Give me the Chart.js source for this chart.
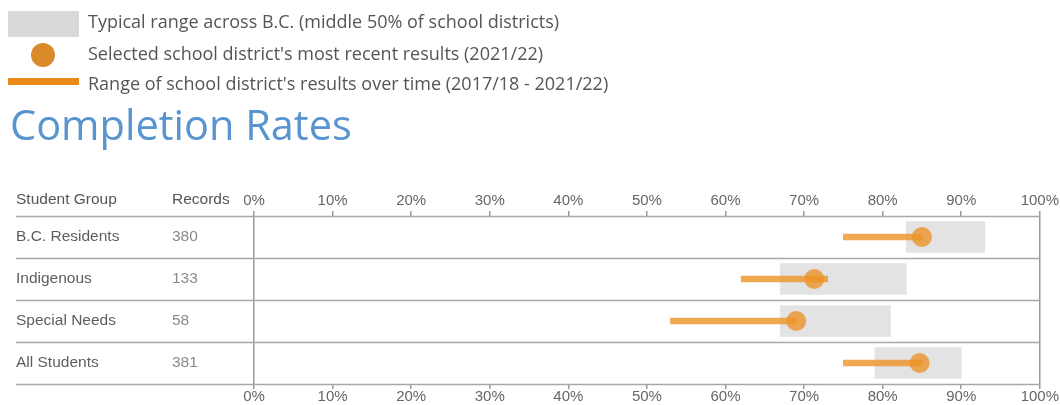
<!DOCTYPE html>
<html>
<head>
<meta charset="utf-8">
<script src="https://cdn.jsdelivr.net/npm/chart.js@4"></script>
<style>
  html, body { margin: 0; padding: 0; background: #fff; width: 1060px; height: 405px; overflow: hidden; }
  #wrap { position: relative; width: 1060px; height: 405px; }
  #c { position: absolute; left: 0; top: 0; }
  .lg { position: absolute; left: 88px; font-family: "Open Sans", sans-serif; font-size: 18px; line-height: 18px; color: #555; white-space: nowrap; }
  .sw-box { position: absolute; left: 8px; top: 11px; width: 71px; height: 26px; background: #d9d9d9; }
  .sw-dot { position: absolute; left: 31px; top: 43px; width: 24px; height: 24px; border-radius: 50%; background: #d98b2b; }
  .sw-line { position: absolute; left: 8px; top: 78px; width: 71px; height: 7px; background: #e8891a; }
  #title { position: absolute; left: 10px; top: 104px; font-family: "Open Sans", sans-serif; font-size: 41.5px; line-height: 41.5px; color: #5894d0; white-space: nowrap; }
</style>
</head>
<body>
<div id="wrap">
  <canvas id="c" width="1060" height="405"></canvas>
  <div class="sw-box"></div>
  <div class="lg" style="top:12px">Typical range across B.C. (middle 50% of school districts)</div>
  <div class="sw-dot"></div>
  <div class="lg" style="top:44px">Selected school district's most recent results (2021/22)</div>
  <div class="sw-line"></div>
  <div class="lg" style="top:74px">Range of school district's results over time (2017/18 - 2021/22)</div>
  <div id="title">Completion Rates</div>
</div>
<script>
const groups = ["B.C. Residents", "Indigenous", "Special Needs", "All Students"];
const records = ["380", "133", "58", "381"];
const typicalLow = [83, 67, 67, 79];
const typicalHigh = [93, 83, 81, 90];
const rangeLow = [75, 62, 53, 75];
const rangeHigh = [85, 73, 69, 85];
const recent = [85, 71.3, 69, 84.7];
const tickValues = [0, 10, 20, 30, 40, 50, 60, 70, 80, 90, 100];

const typicalData = groups.map((g, i) => [typicalLow[i], typicalHigh[i]]);
const rangeData = groups.map((g, i) => [rangeLow[i], rangeHigh[i]]);

const tableplugin = {
  id: 'tableplugin',
  beforeDatasetsDraw(chart) {
    const ctx = chart.ctx, y = chart.scales.y, ca = chart.chartArea;
    ctx.save();
    ctx.strokeStyle = '#a8a8a8';
    ctx.lineWidth = 1.5;
    for (let i = 0; i <= groups.length; i++) {
      let py;
      if (i === 0) py = ca.top;
      else if (i === groups.length) py = ca.bottom;
      else py = (y.getPixelForValue(i - 1) + y.getPixelForValue(i)) / 2;
      py = Math.round(py) + 0.5;
      ctx.beginPath();
      ctx.moveTo(16, py);
      ctx.lineTo(ca.right, py);
      ctx.stroke();
    }
    ctx.restore();
  },
  afterDraw(chart) {
    const ctx = chart.ctx, y = chart.scales.y, ca = chart.chartArea;
    ctx.save();
    ctx.font = '15.5px "Liberation Sans", Arial, sans-serif';
    ctx.textBaseline = 'middle';
    ctx.textAlign = 'left';
    ctx.fillStyle = '#555';
    const hy = ca.top - 16;
    ctx.fillText('Student Group', 16, hy);
    ctx.fillText('Records', 172, hy);
    groups.forEach((g, i) => {
      const py = y.getPixelForValue(i);
      ctx.fillStyle = '#5e5e5e';
      ctx.fillText(g, 16, py);
      ctx.fillStyle = '#8a8a8a';
      ctx.fillText(records[i], 172, py);
    });
    ctx.restore();
  }
};

const tickFont = { family: '"Liberation Sans", Arial, sans-serif', size: 15 };

new Chart(document.getElementById('c'), {
  type: 'bar',
  data: {
    labels: groups,
    datasets: [
      { type: 'bar', data: typicalData, backgroundColor: '#e3e3e3', barThickness: 31, grouped: false, order: 3, xAxisID: 'x', yAxisID: 'y' },
      { type: 'line', indexAxis: 'y', data: recent, showLine: false, pointRadius: 10, pointHoverRadius: 10, pointBorderWidth: 0,
        pointBackgroundColor: 'rgba(236,146,38,0.78)', backgroundColor: 'rgba(236,146,38,0.78)', borderColor: 'rgba(0,0,0,0)', order: 2, xAxisID: 'x', yAxisID: 'y' },
      { type: 'bar', data: rangeData, backgroundColor: 'rgba(236,146,38,0.8)', barThickness: 6, grouped: false, order: 1, xAxisID: 'x', yAxisID: 'y' }
    ]
  },
  options: {
    indexAxis: 'y',
    responsive: false,
    animation: false,
    events: [],
    layout: { padding: { left: 254, right: 19, top: 191, bottom: 1 } },
    plugins: { legend: { display: false }, tooltip: { enabled: false } },
    scales: {
      x: {
        type: 'linear', position: 'top', min: 0, max: 100,
        afterBuildTicks: (s) => { s.ticks = tickValues.map(v => ({ value: v })); },
        ticks: { callback: (v) => v + '%', color: '#666', font: tickFont, padding: 1, maxRotation: 0, autoSkip: false },
        grid: {
          color: (c) => (c.tick && (c.tick.value === 0 || c.tick.value === 100)) ? '#9a9a9a' : 'rgba(0,0,0,0)',
          tickColor: '#9a9a9a', tickLength: 5, lineWidth: 1.5, drawTicks: true
        },
        border: { display: false }
      },
      x2: {
        type: 'linear', position: 'bottom', min: 0, max: 100,
        afterBuildTicks: (s) => { s.ticks = tickValues.map(v => ({ value: v })); },
        ticks: { callback: (v) => v + '%', color: '#666', font: { ...tickFont, lineHeight: 1 }, padding: 0, maxRotation: 0, autoSkip: false },
        grid: { drawOnChartArea: false, tickColor: '#9a9a9a', tickLength: 5, lineWidth: 1.5 },
        border: { display: false }
      },
      y: {
        type: 'category', display: false, offset: true
      }
    }
  },
  plugins: [tableplugin]
});
</script>
</body>
</html>
